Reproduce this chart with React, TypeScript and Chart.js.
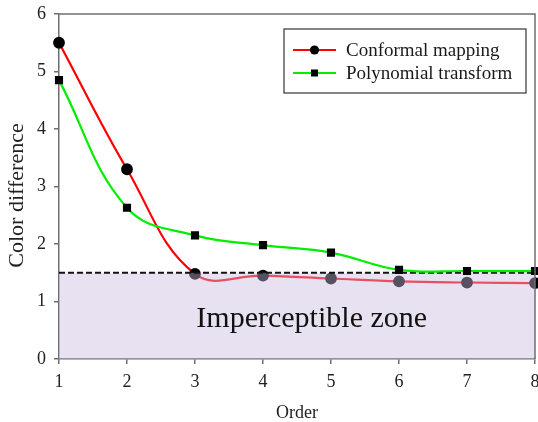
import React, { useEffect, useRef } from "react";
import { Chart, registerables } from "chart.js";

Chart.register(...registerables);

const orders = [1, 2, 3, 4, 5, 6, 7, 8];
const conformal = [5.5, 3.3, 1.48, 1.45, 1.4, 1.35, 1.33, 1.32];
const polynomial = [4.85, 2.63, 2.15, 1.98, 1.85, 1.55, 1.53, 1.53];
const threshold = 1.5;
const seriesLabels = ["Conformal mapping", "Polynomial transform"];
const zoneLabel = "Imperceptible zone";
const xTitle = "Order";
const yTitle = "Color difference";

const FONT = "'Liberation Serif', 'Times New Roman', serif";
const AXIS = "#6f6f6f";
const CANVAS_W = 542;

const framePlugin = {
  id: "frame",
  afterDraw(chart: any) {
    const { ctx, chartArea: a } = chart;
    ctx.save();
    ctx.strokeStyle = AXIS;
    ctx.lineWidth = 1.5;
    ctx.beginPath();
    ctx.moveTo(a.left, a.top);
    ctx.lineTo(a.right, a.top);
    ctx.lineTo(a.right, a.bottom);
    ctx.stroke();
    // y title
    ctx.save();
    ctx.translate(17, (a.top + a.bottom) / 2 + 9);
    ctx.rotate(-Math.PI / 2);
    ctx.fillStyle = "#222";
    ctx.font = `22px ${FONT}`;
    ctx.textAlign = "center";
    ctx.textBaseline = "middle";
    ctx.fillText(yTitle, 0, 0);
    ctx.restore();
    // zone label
    ctx.fillStyle = "#111";
    ctx.font = `30px ${FONT}`;
    ctx.textAlign = "left";
    ctx.textBaseline = "alphabetic";
    const xs = chart.scales.x;
    const ys = chart.scales.y;
    ctx.fillText(zoneLabel, xs.getPixelForValue(3.02), ys.getPixelForValue(0.55));
    // legend
    const bw = 242, bh = 64;
    const bx = a.right - 9 - bw;
    const by = a.top + 15;
    ctx.fillStyle = "#fff";
    ctx.fillRect(bx, by, bw, bh);
    ctx.strokeStyle = "#444";
    ctx.lineWidth = 1.3;
    ctx.strokeRect(bx, by, bw, bh);
    const colors = ["#ff0000", "#00ee00"];
    seriesLabels.forEach((lab, i) => {
      const cy = by + 21 + i * 23;
      ctx.strokeStyle = colors[i];
      ctx.lineWidth = 2.2;
      ctx.beginPath();
      ctx.moveTo(bx + 9, cy);
      ctx.lineTo(bx + 52, cy);
      ctx.stroke();
      ctx.fillStyle = "#000";
      if (i === 0) {
        ctx.beginPath();
        ctx.arc(bx + 30.5, cy, 4.6, 0, Math.PI * 2);
        ctx.fill();
      } else {
        ctx.fillRect(bx + 27, cy - 3.5, 7, 7);
      }
      ctx.fillStyle = "#1a1a1a";
      ctx.font = `19px ${FONT}`;
      ctx.textAlign = "left";
      ctx.textBaseline = "middle";
      ctx.fillText(lab, bx + 62, cy + 1);
    });
    ctx.restore();
  },
};

export default function App() {
  const ref = useRef<HTMLCanvasElement | null>(null);
  useEffect(() => {
    if (!ref.current) return;
    const chart = new Chart(ref.current, {
      type: "line",
      data: {
        datasets: [
          {
            label: seriesLabels[0],
            data: orders.map((x, i) => ({ x, y: conformal[i] })),
            borderColor: "#ff0000",
            borderWidth: 2.2,
            pointBackgroundColor: "#000",
            pointBorderColor: "#000",
            pointRadius: 4.8,
            pointStyle: "circle",
            tension: 0.4,
            fill: false,
            clip: false,
            order: 2,
          },
          {
            label: "zone",
            data: [
              { x: orders[0], y: threshold },
              { x: orders[orders.length - 1], y: threshold },
            ],
            borderColor: "#111",
            borderWidth: 2,
            borderDash: [6, 3],
            backgroundColor: "rgba(200,186,222,0.43)",
            pointRadius: 0,
            fill: "origin",
            order: 1,
          },
          {
            label: seriesLabels[1],
            data: orders.map((x, i) => ({ x, y: polynomial[i] })),
            borderColor: "#00ee00",
            borderWidth: 2.2,
            pointBackgroundColor: "#000",
            pointBorderColor: "#000",
            pointRadius: 4.2,
            pointStyle: "rect",
            tension: 0.4,
            fill: false,
            clip: false,
            order: 0,
          },
        ],
      },
      options: {
        responsive: false,
        animation: false,
        layout: { padding: { top: 14, right: 0, left: 0, bottom: 0 } },
        plugins: { legend: { display: false }, tooltip: { enabled: false } },
        scales: {
          x: {
            type: "linear",
            min: 1,
            max: 8,
            ticks: {
              stepSize: 1,
              color: "#222",
              font: { family: FONT, size: 18 },
              padding: 7,
            },
            grid: { drawOnChartArea: false, color: AXIS, tickLength: 5, lineWidth: 1.5 },
            border: { color: AXIS, width: 1.5 },
            title: {
              display: true,
              text: xTitle,
              color: "#222",
              font: { family: FONT, size: 18 },
              padding: { top: 0, bottom: -2 },
            },
            afterFit: (s: any) => {
              s.height = 63;
              s.paddingLeft = 0;
              s.paddingRight = 0;
            },
          },
          y: {
            min: 0,
            max: 6,
            ticks: {
              stepSize: 1,
              color: "#222",
              font: { family: FONT, size: 18 },
              padding: 8,
            },
            grid: { drawOnChartArea: false, color: AXIS, tickLength: 5, lineWidth: 1.5 },
            border: { color: AXIS, width: 1.5 },
            title: { display: false },
            afterFit: (s: any) => {
              s.width = 59;
              s.paddingTop = 0;
              s.paddingBottom = 0;
            },
          },
        },
      },
      plugins: [framePlugin],
    } as any);
    return () => chart.destroy();
  }, []);
  return (
    <div
      style={{
        position: "absolute",
        left: 0,
        top: 0,
        width: 538,
        height: 422,
        overflow: "hidden",
        background: "#fff",
      }}
    >
      <canvas ref={ref} width={CANVAS_W} height={422} style={{ width: CANVAS_W, height: 422, display: "block" }} />
    </div>
  );
}
